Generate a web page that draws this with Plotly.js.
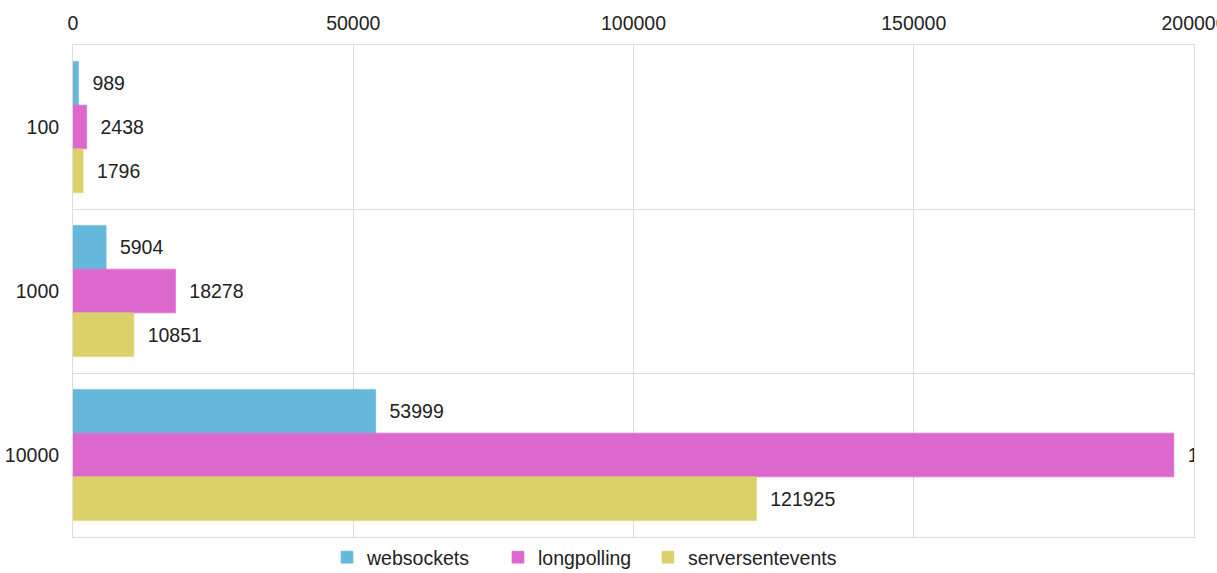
<!DOCTYPE html>
<html>
<head>
<meta charset="utf-8">
<script src="https://cdn.plot.ly/plotly-3.0.1.min.js"></script>
<style>html,body{margin:0;padding:0;background:#fff;}#chart{width:1217px;height:573px;}</style>
</head>
<body>
<div id="chart"></div>
<script>
var categories = ["100", "1000", "10000"];
var websockets = [989, 5904, 53999];
var longpolling = [2438, 18278, 196400];
var serversentevents = [1796, 10851, 121925];
var seriesNames = ["websockets", "longpolling", "serversentevents"];
var xTicks = [0, 50000, 100000, 150000, 200000];

var colors = ["#66b7dc", "#dc67cd", "#dcd168"];
var borders = ["rgba(102,183,220,0.6)", "rgba(220,103,205,0.6)", "rgba(220,209,104,0.6)"];
var legendIds = ["legend", "legend2", "legend3"];
var legendX = [0.2266, 0.3791, 0.5129];
var series = [websockets, longpolling, serversentevents];

var traces = series.map(function (vals, i) {
  return {
    type: "bar",
    orientation: "h",
    name: seriesNames[i],
    legend: legendIds[i],
    x: vals,
    y: categories,
    text: vals.map(function (v) { return "\u00a0\u00a0" + v; }),
    texttemplate: "%{text}",
    textposition: "outside",
    textfont: {family: "Liberation Sans, Arial, sans-serif", size: 19.5, color: "#222"},
    constraintext: "none",
    cliponaxis: true,
    marker: {color: colors[i], line: {color: borders[i], width: 1}},
    hoverinfo: "x+name"
  };
});

var layout = {
  width: 1217,
  height: 573,
  margin: {l: 73, r: 23, t: 45, b: 36, autoexpand: false},
  paper_bgcolor: "#fff",
  plot_bgcolor: "#fff",
  font: {family: "Liberation Sans, Arial, sans-serif", size: 19.5, color: "#222"},
  barmode: "group",
  bargap: 0.2,
  bargroupgap: 0,
  showlegend: true,
  xaxis: {
    side: "top",
    range: [0, 200000],
    tickmode: "array",
    tickvals: xTicks,
    ticktext: xTicks.map(String),
    ticklabeloverflow: "allow",
    showgrid: true,
    gridcolor: "#dcdcdc",
    zeroline: false,
    showline: true,
    linecolor: "#dcdcdc",
    mirror: true,
    ticks: "outside",
    ticklen: 6,
    tickcolor: "rgba(0,0,0,0)",
    fixedrange: true
  },
  yaxis: {
    type: "category",
    categoryorder: "array",
    categoryarray: categories,
    autorange: "reversed",
    tickson: "boundaries",
    showgrid: true,
    gridcolor: "#dcdcdc",
    showline: true,
    linecolor: "#dcdcdc",
    mirror: true,
    ticks: "",
    ticklabelstandoff: 9,
    fixedrange: true
  }
};

legendIds.forEach(function (id, i) {
  layout[id] = {
    orientation: "h",
    x: legendX[i], xanchor: "left",
    y: -0.002, yanchor: "top",
    bgcolor: "rgba(0,0,0,0)",
    font: {size: 19.5, color: "#222"}
  };
});

Plotly.newPlot("chart", traces, layout, {displayModeBar: false, staticPlot: true});
</script>
</body>
</html>
